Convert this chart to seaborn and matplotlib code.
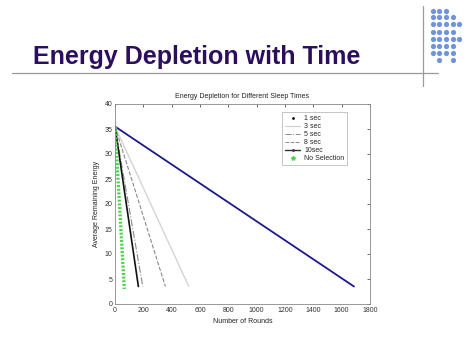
import pandas as pd
import numpy as np
import matplotlib
matplotlib.use("Agg")
import matplotlib.pyplot as plt
from matplotlib.lines import Line2D
import seaborn as sns

# datos (inicio y fin de cada recta)
series_names = ["1 sec", "3 sec", "5 sec", "8 sec", "10sec", "No Selection"]
rounds_start = [0, 0, 0, 0, 0, 0]
rounds_end = [1687, 521, 196, 356, 165, 66]
energy_start = [35.5, 35.5, 35.5, 35.5, 35.5, 35.5]
energy_end = [3.5, 3.5, 3.5, 3.5, 3.5, 3.0]

x_ticks = [0, 200, 400, 600, 800, 1000, 1200, 1400, 1600, 1800]
y_ticks = [0, 5, 10, 15, 20, 25, 30, 35, 40]

# estilos por serie
colors = ["#1a1a8c", "#d4d4d4", "#8a8a8a", "#8a8a8a", "#111111", "#4cd44c"]
styles = ["-", "-", "-.", "--", "-", (0, (0.6, 0.5))]
widths = [1.3, 1.0, 0.8, 0.8, 1.2, 2.4]

rows = []
for name, x0, x1, y0, y1 in zip(series_names, rounds_start, rounds_end, energy_start, energy_end):
    rows.append({"serie": name, "rounds": x0, "energy": y0})
    rows.append({"serie": name, "rounds": x1, "energy": y1})
df = pd.DataFrame(rows)

sns.set_style("white")
plt.rcParams["font.family"] = ["Liberation Sans", "DejaVu Sans"]

fig = plt.figure(figsize=(4.74, 3.55), dpi=100)
fig.patch.set_facecolor("white")

# capa de la diapositiva en pixeles
deco = fig.add_axes([0, 0, 1, 1])
deco.set_xlim(0, 474)
deco.set_ylim(355, 0)
deco.axis("off")
deco.text(33, 64, "Energy Depletion with Time", fontsize=18,
          fontweight="bold", color="#2b0f5c", ha="left", va="baseline")
deco.plot([12, 438], [73, 73], color="#9a9a9a", lw=0.9)
deco.plot([423, 423], [6, 86], color="#9a9a9a", lw=0.9)
dot_cols = [432.7, 439.3, 446.0, 452.7, 459.3]
dot_rows = [10.7, 17.3, 24.3, 31.5, 38.7, 45.7, 52.7, 60.0]
dot_pattern = [[0, 1, 2], [0, 1, 2, 3], [0, 1, 2, 3, 4], [0, 1, 2, 3],
               [0, 1, 2, 3, 4], [0, 1, 2, 3], [0, 1, 2, 3], [1, 3]]
dx, dy = [], []
for r, cols in zip(dot_rows, dot_pattern):
    for c in cols:
        dx.append(dot_cols[c])
        dy.append(r)
deco.scatter(dx, dy, s=14, color="#6f93dc", linewidths=0)

ax = fig.add_axes([115 / 474, 1 - 304 / 355, 255 / 474, 200 / 355])
for name, col, ls, lw in zip(series_names, colors, styles, widths):
    sub = df[df["serie"] == name]
    sns.lineplot(data=sub, x="rounds", y="energy", ax=ax, color=col,
                 linestyle=ls, linewidth=lw, legend=False)

ax.set_xlim(0, 1800)
ax.set_ylim(0, 40)
ax.set_xticks(x_ticks)
ax.set_yticks(y_ticks)
ax.tick_params(direction="in", length=2.5, width=0.5, labelsize=5,
               colors="#333333", top=True, right=True, pad=2)
for s in ax.spines.values():
    s.set_color("#888888")
    s.set_linewidth(0.6)
ax.set_xlabel("Number of Rounds", fontsize=5, color="#222222", labelpad=3)
ax.set_ylabel("Average Remaining Energy", fontsize=5, color="#222222", labelpad=3)
ax.set_title("Energy Depletion for Different Sleep Times", fontsize=5,
             color="#222222", pad=4)

handles = [
    Line2D([], [], color="#111111", marker=".", ls="none", markersize=2),
    Line2D([], [], color="#cfcfcf", ls="-", lw=0.8),
    Line2D([], [], color="#888888", ls="-.", lw=0.7),
    Line2D([], [], color="#888888", ls="--", lw=0.7),
    Line2D([], [], color="#333333", ls="-", lw=1.0, marker=".", markersize=2),
    Line2D([], [], color="#4cd44c", marker="*", ls="none", markersize=3),
]
leg = ax.legend(handles, series_names, loc="upper right", fontsize=5,
                frameon=True, fancybox=False, handlelength=2.2,
                labelspacing=0.15, borderpad=0.4, handletextpad=0.6,
                bbox_to_anchor=(0.925, 0.975))
leg.get_frame().set_edgecolor("#999999")
leg.get_frame().set_linewidth(0.5)

fig.savefig("out.png", dpi=100)
